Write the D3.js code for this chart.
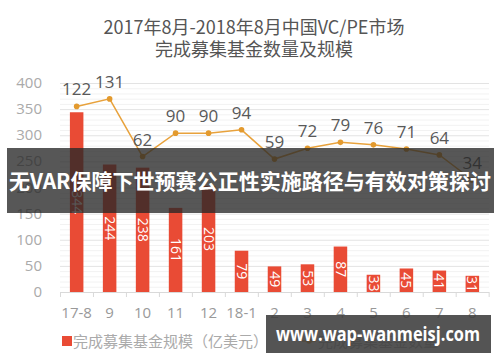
<!DOCTYPE html>
<html><head><meta charset="utf-8">
<script src="https://cdn.jsdelivr.net/npm/d3@7"></script>
<style>
html,body{margin:0;padding:0;background:#fff;}
svg{display:block;font-family:"Noto Sans CJK SC","Noto Sans",sans-serif;}
</style></head>
<body><svg id="c" width="500" height="362"></svg>
<script>
const categories = ["17-8","9","10","11","12","18-1","2","3","4","5","6","7","8"];
const fundSize = [344,244,238,161,203,79,49,53,87,33,45,41,31];
const fundCount = [122,131,62,90,90,94,59,72,79,76,71,64,34];
const yTicks = [0,50,100,150,200,250,300,350,400];
const titleLines = ["2017年8月-2018年8月中国VC/PE市场","完成募集基金数量及规模"];
const legendLabels = ["完成募集基金规模（亿美元）","完成募集基金数量"];
const bannerText = "无VAR保障下世预赛公正性实施路径与有效对策探讨";
const watermark = "www.wap-wanmeisj.com";

(function(){
const svg = d3.select("#c");
const pL = 60, pR = 489, pT = 83, pB = 292;

const x = d3.scaleBand().domain(categories).range([pL, pR]).paddingInner(0.59).paddingOuter(0.3);
const y = d3.scaleLinear().domain([0,400]).range([pB, pT]);
const y2 = d3.scaleLinear().domain([-100,150]).range([pB, pT]);

// title
svg.selectAll("text.title").data(titleLines).join("text").attr("class","title")
  .attr("x", 254).attr("y", (d,i)=>34+i*22)
  .attr("text-anchor","middle").attr("fill","#555").attr("font-size",18)
  .text(d=>d);

// minor grid
svg.append("g").selectAll("line").data(d3.range(0,401,10).filter(v=>v%50!==0)).join("line")
  .attr("x1",pL).attr("x2",pR).attr("y1",d=>y(d)+0.5).attr("y2",d=>y(d)+0.5)
  .attr("stroke","#f2f2f2").attr("stroke-width",1);
// major grid
svg.append("g").selectAll("line").data(yTicks.filter(v=>v>0)).join("line")
  .attr("x1",pL).attr("x2",pR).attr("y1",d=>y(d)+0.5).attr("y2",d=>y(d)+0.5)
  .attr("stroke","#e3e3e3").attr("stroke-width",1);

// y axis labels
svg.append("g").selectAll("text").data(yTicks).join("text")
  .attr("x",42).attr("y",d=>y(d)+5).attr("text-anchor","end")
  .attr("fill","#aaa").attr("font-size",15).attr("font-family","'Open Sans','Noto Sans',sans-serif")
  .text(d=>d);

// x axis
const xAxis = svg.append("g").attr("transform",`translate(0,${pB})`);
xAxis.append("line").attr("x1",pL).attr("x2",pR).attr("y1",0.5).attr("y2",0.5).attr("stroke","#d9d9d9");
const step = x.step();
xAxis.selectAll("line.tk").data(d3.range(categories.length+1)).join("line").attr("class","tk")
  .attr("x1",i=>pL+i*step+0.5).attr("x2",i=>pL+i*step+0.5).attr("y1",0).attr("y2",5).attr("stroke","#d9d9d9");
xAxis.selectAll("text").data(categories).join("text")
  .attr("x",d=>x(d)+x.bandwidth()/2).attr("y",26).attr("text-anchor","middle")
  .attr("fill","#999").attr("font-size",15).attr("font-family","'Open Sans','Noto Sans',sans-serif")
  .text(d=>d);

// bars
svg.append("g").selectAll("rect").data(fundSize).join("rect")
  .attr("x",(d,i)=>x(categories[i])).attr("width",x.bandwidth())
  .attr("y",d=>y(d)).attr("height",d=>pB-y(d)).attr("fill","#e94b35");
svg.append("g").selectAll("text").data(fundSize).join("text")
  .attr("transform",(d,i)=>`translate(${x(categories[i])+x.bandwidth()/2},${(y(d)+pB)/2}) rotate(90)`)
  .attr("text-anchor","middle").attr("dy","0.35em").attr("fill","#fff").attr("font-size",14)
  .attr("font-family","'Open Sans','Noto Sans',sans-serif")
  .text(d=>d);

// line
const lineGen = d3.line().x((d,i)=>x(categories[i])+x.bandwidth()/2).y(d=>y2(d));
svg.append("path").datum(fundCount).attr("d",lineGen).attr("fill","none").attr("stroke","#e8a23c").attr("stroke-width",1.5);
svg.append("g").selectAll("circle").data(fundCount).join("circle")
  .attr("cx",(d,i)=>x(categories[i])+x.bandwidth()/2).attr("cy",d=>y2(d)).attr("r",2.8).attr("fill","#e39a2e");
svg.append("g").selectAll("text").data(fundCount).join("text")
  .attr("x",(d,i)=>x(categories[i])+x.bandwidth()/2).attr("y",d=>y2(d)-11)
  .attr("text-anchor","middle").attr("fill","#595959").attr("font-size",17)
  .attr("font-family","'Open Sans','Noto Sans',sans-serif")
  .text(d=>d);

// legend
svg.append("rect").attr("x",62).attr("y",336).attr("width",10).attr("height",10).attr("fill","#e94b35");
svg.append("text").attr("x",73).attr("y",347).attr("fill","#aaa").attr("font-size",15).text(legendLabels[0]);
svg.append("line").attr("x1",302).attr("x2",316).attr("y1",341).attr("y2",341).attr("stroke","#e8a23c").attr("stroke-width",1.5);
svg.append("circle").attr("cx",309).attr("cy",341).attr("r",2.8).attr("fill","#e39a2e");
svg.append("text").attr("x",318).attr("y",347).attr("fill","#aaa").attr("font-size",15).text(legendLabels[1]);

// banner overlay
svg.append("rect").attr("x",7).attr("y",148).attr("width",487).attr("height",65).attr("fill","rgba(40,40,40,0.78)");
svg.append("text").attr("x",250).attr("y",189).attr("text-anchor","middle").attr("fill","#fff")
  .attr("font-size",21).attr("font-weight","bold").attr("textLength",482).attr("lengthAdjust","spacingAndGlyphs")
  .text(bannerText);

// watermark
svg.append("rect").attr("x",266).attr("y",315).attr("width",225).attr("height",38).attr("fill","rgba(60,60,60,0.88)");
svg.append("text").attr("x",378).attr("y",341).attr("text-anchor","middle").attr("fill","#fff")
  .attr("font-size",19).attr("font-weight","bold").attr("font-family","'Open Sans','DejaVu Sans',sans-serif")
  .attr("textLength",204).attr("lengthAdjust","spacingAndGlyphs")
  .text(watermark);
})();
</script></body></html>
